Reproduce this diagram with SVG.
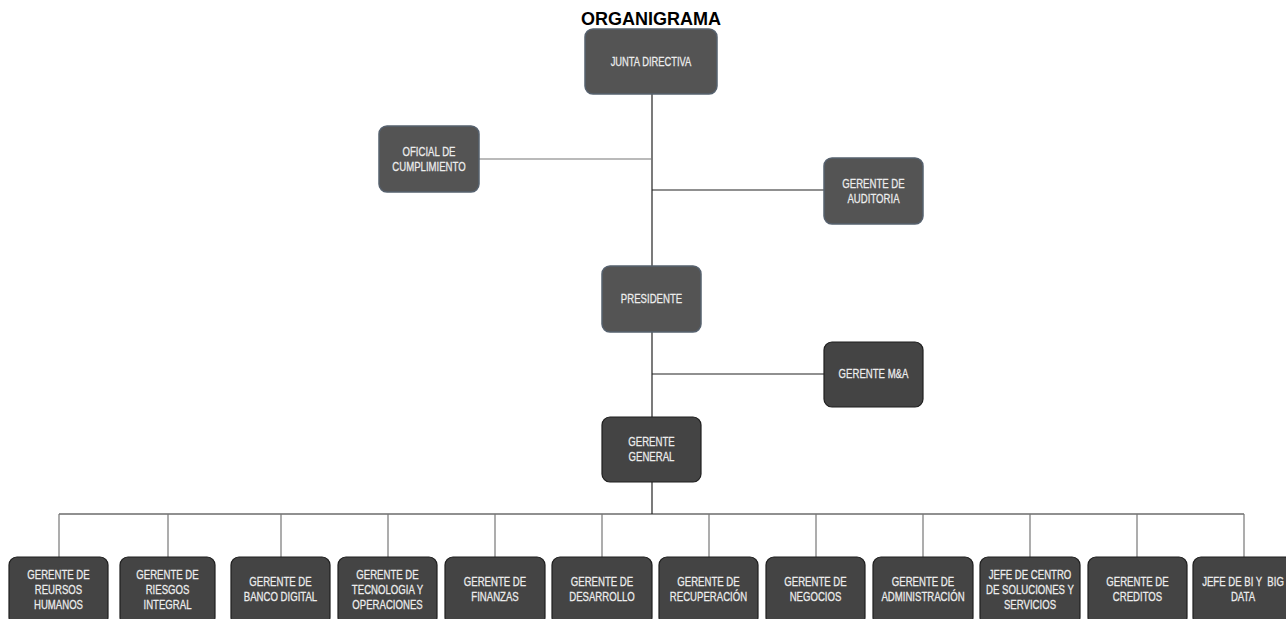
<svg xmlns="http://www.w3.org/2000/svg" width="1286" height="619" viewBox="0 0 1286 619">
<style>
.top rect{fill:#545454;stroke:#56616e;stroke-width:1.5}
.low rect{fill:#444;stroke:#1e1e1e;stroke-width:1.2}
text.t{font-family:"Liberation Sans",Arial,sans-serif;font-size:12px;fill:#ededed;text-anchor:middle;stroke:#ededed;stroke-width:0.25}
#connectors path{stroke:#222;stroke-width:1.2;fill:none}
#connectors path.g{stroke:#777}
</style>
<rect width="1286" height="619" fill="#fff"/>
<text x="651" y="25" font-family="Liberation Sans, Arial, sans-serif" font-size="18" font-weight="bold" text-anchor="middle" fill="#000">ORGANIGRAMA</text>
<g id="connectors">
<path d="M652 94V266"/>
<path class="g" d="M479 159H652"/>
<path d="M652 190H824"/>
<path d="M652 332V417"/>
<path d="M652 374H824"/>
<path d="M652 482V514"/>
<path d="M59 514H1244"/>
<path class="g" d="M59 514V557M168 514V557M281 514V557M388 514V557M495 514V557M602 514V557M709 514V557M816 514V557M923 514V557M1030 514V557M1137 514V557M1244 514V557"/>
</g>
<g id="junta" class="top"><rect x="585" y="29" width="132" height="65" rx="8"/><g transform="translate(651,0) scale(0.78,1)"><text class="t" x="0" y="66">JUNTA DIRECTIVA</text></g></g>
<g id="oficial" class="top"><rect x="379" y="126" width="100" height="66" rx="8"/><g transform="translate(429,0) scale(0.8,1)"><text class="t" x="0" y="156.5">OFICIAL DE</text><text class="t" x="0" y="171">CUMPLIMIENTO</text></g></g>
<g id="auditoria" class="top"><rect x="824" y="158" width="99" height="66" rx="8"/><g transform="translate(873.5,0) scale(0.8,1)"><text class="t" x="0" y="188.5">GERENTE DE</text><text class="t" x="0" y="203">AUDITORIA</text></g></g>
<g id="presidente" class="top"><rect x="602" y="266" width="99" height="66" rx="8"/><g transform="translate(651.5,0) scale(0.8,1)"><text class="t" x="0" y="303.5">PRESIDENTE</text></g></g>
<g id="ma" class="low"><rect x="824" y="342" width="99" height="65" rx="8"/><g transform="translate(873.5,0) scale(0.8,1)"><text class="t" x="0" y="378.5">GERENTE M&amp;A</text></g></g>
<g id="general" class="low"><rect x="602" y="417" width="99" height="65" rx="8"/><g transform="translate(651.5,0) scale(0.8,1)"><text class="t" x="0" y="446.5">GERENTE</text><text class="t" x="0" y="461">GENERAL</text></g></g>
<g id="rrhh" class="low"><rect x="9" y="557" width="99" height="68" rx="8"/><g transform="translate(58.5,0) scale(0.8,1)"><text class="t" x="0" y="579.5">GERENTE DE</text><text class="t" x="0" y="594.5">REURSOS</text><text class="t" x="0" y="609.5">HUMANOS</text></g></g>
<g id="riesgos" class="low"><rect x="120" y="557" width="95" height="68" rx="8"/><g transform="translate(167.5,0) scale(0.8,1)"><text class="t" x="0" y="579.5">GERENTE DE</text><text class="t" x="0" y="594.5">RIESGOS</text><text class="t" x="0" y="609.5">INTEGRAL</text></g></g>
<g id="banco" class="low"><rect x="231" y="557" width="99" height="68" rx="8"/><g transform="translate(280.5,0) scale(0.8,1)"><text class="t" x="0" y="586.5">GERENTE DE</text><text class="t" x="0" y="601.5">BANCO DIGITAL</text></g></g>
<g id="tecnologia" class="low"><rect x="338" y="557" width="99" height="68" rx="8"/><g transform="translate(387.5,0) scale(0.8,1)"><text class="t" x="0" y="579.5">GERENTE DE</text><text class="t" x="0" y="594.5">TECNOLOGIA Y</text><text class="t" x="0" y="609.5">OPERACIONES</text></g></g>
<g id="finanzas" class="low"><rect x="445" y="557" width="100" height="68" rx="8"/><g transform="translate(495,0) scale(0.8,1)"><text class="t" x="0" y="586.5">GERENTE DE</text><text class="t" x="0" y="601.5">FINANZAS</text></g></g>
<g id="desarrollo" class="low"><rect x="552" y="557" width="100" height="68" rx="8"/><g transform="translate(602,0) scale(0.8,1)"><text class="t" x="0" y="586.5">GERENTE DE</text><text class="t" x="0" y="601.5">DESARROLLO</text></g></g>
<g id="recuperacion" class="low"><rect x="659" y="557" width="99" height="68" rx="8"/><g transform="translate(708.5,0) scale(0.8,1)"><text class="t" x="0" y="586.5">GERENTE DE</text><text class="t" x="0" y="601.5">RECUPERACIÓN</text></g></g>
<g id="negocios" class="low"><rect x="766" y="557" width="99" height="68" rx="8"/><g transform="translate(815.5,0) scale(0.8,1)"><text class="t" x="0" y="586.5">GERENTE DE</text><text class="t" x="0" y="601.5">NEGOCIOS</text></g></g>
<g id="administracion" class="low"><rect x="873" y="557" width="100" height="68" rx="8"/><g transform="translate(923,0) scale(0.8,1)"><text class="t" x="0" y="586.5">GERENTE DE</text><text class="t" x="0" y="601.5">ADMINISTRACIÓN</text></g></g>
<g id="centro" class="low"><rect x="980" y="557" width="100" height="68" rx="8"/><g transform="translate(1030,0) scale(0.8,1)"><text class="t" x="0" y="579.5">JEFE DE CENTRO</text><text class="t" x="0" y="594.5">DE SOLUCIONES Y</text><text class="t" x="0" y="609.5">SERVICIOS</text></g></g>
<g id="creditos" class="low"><rect x="1088" y="557" width="99" height="68" rx="8"/><g transform="translate(1137.5,0) scale(0.8,1)"><text class="t" x="0" y="586.5">GERENTE DE</text><text class="t" x="0" y="601.5">CREDITOS</text></g></g>
<g id="bigdata" class="low"><rect x="1193" y="557" width="100" height="68" rx="8"/><g transform="translate(1243,0) scale(0.8,1)"><text class="t" x="0" y="586.5" xml:space="preserve">JEFE DE BI Y  BIG</text><text class="t" x="0" y="601.5">DATA</text></g></g>
</svg>
